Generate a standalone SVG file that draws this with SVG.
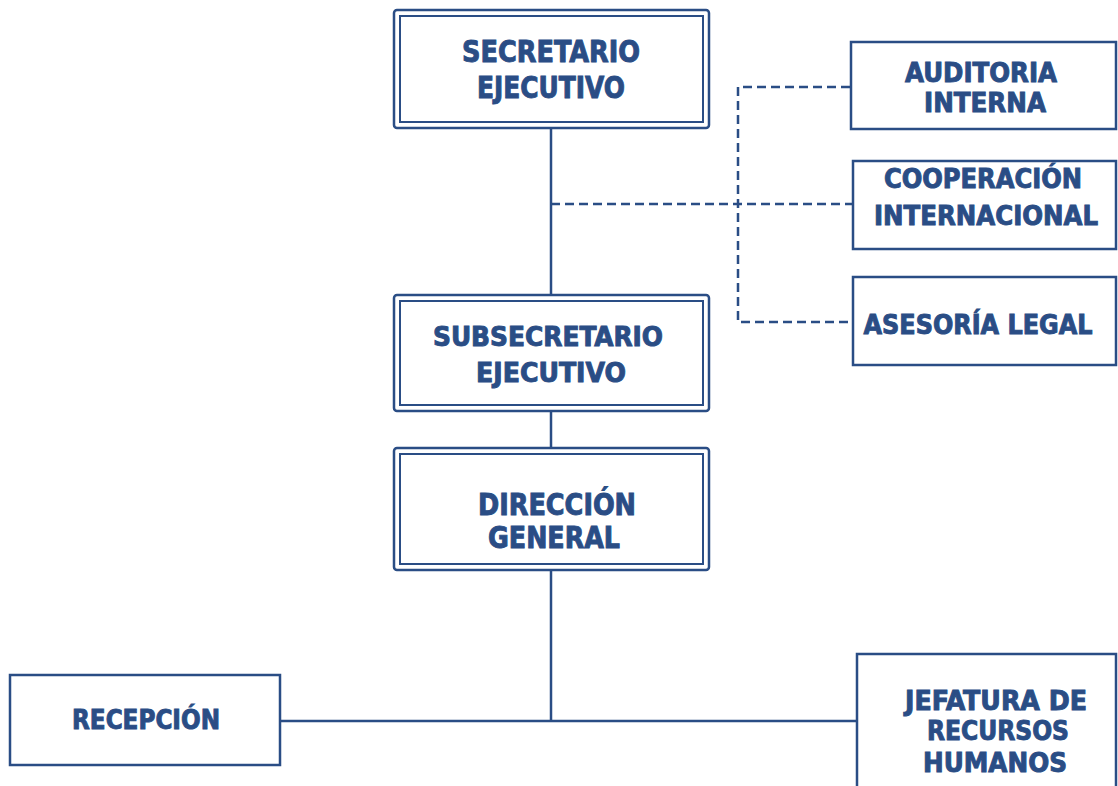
<svg xmlns="http://www.w3.org/2000/svg" width="1118" height="786" viewBox="0 0 1118 786">
<style>
.box{fill:#fff;stroke:#2a4d85;stroke-width:2.5}
.in{fill:none;stroke:#2a4d85;stroke-width:2}
.t{font-family:"DejaVu Sans Condensed","DejaVu Sans","Liberation Sans",sans-serif;font-stretch:condensed;font-weight:bold;fill:#2a4d85;stroke:#2a4d85;stroke-width:0.9;text-anchor:middle}
.s{font-size:27px}
.b{font-size:30px}
.ln{fill:none;stroke:#2a4d85;stroke-width:2.5}
.dl{fill:none;stroke:#2a4d85;stroke-width:2.5;stroke-dasharray:9 5}
</style>
<rect width="1118" height="786" fill="#fff"/>
<g id="connectors">
<line class="ln" x1="551" y1="129" x2="551" y2="295"/>
<line class="ln" x1="551" y1="411" x2="551" y2="448"/>
<line class="ln" x1="551" y1="570" x2="551" y2="721"/>
<line class="ln" x1="281" y1="721" x2="858" y2="721"/>
<line class="dl" x1="551" y1="204" x2="852" y2="204"/>
<polyline class="dl" points="850,87 738,87 738,322 852,322"/>
</g>
<g id="secretario">
<rect class="box" x="394" y="10" width="315" height="118" rx="3"/>
<rect class="in" x="400" y="16" width="303" height="106"/>
<text class="t b" x="551" y="62" textLength="178" lengthAdjust="spacingAndGlyphs">SECRETARIO</text>
<text class="t b" x="551" y="98" textLength="148" lengthAdjust="spacingAndGlyphs">EJECUTIVO</text>
</g>
<g id="subsecretario">
<rect class="box" x="394" y="295" width="315" height="116" rx="3"/>
<rect class="in" x="400" y="301" width="303" height="104"/>
<text class="t s" x="548" y="346" textLength="230" lengthAdjust="spacingAndGlyphs">SUBSECRETARIO</text>
<text class="t s" x="551" y="382" textLength="150" lengthAdjust="spacingAndGlyphs">EJECUTIVO</text>
</g>
<g id="direccion">
<rect class="box" x="394" y="448" width="315" height="122" rx="3"/>
<rect class="in" x="400" y="454" width="303" height="110"/>
<text class="t b" x="557" y="515" textLength="158" lengthAdjust="spacingAndGlyphs">DIRECCIÓN</text>
<text class="t b" x="554" y="548" textLength="132" lengthAdjust="spacingAndGlyphs">GENERAL</text>
</g>
<g id="auditoria">
<rect class="box" x="851" y="42" width="265" height="87"/>
<text class="t s" x="981" y="82" textLength="152" lengthAdjust="spacingAndGlyphs">AUDITORIA</text>
<text class="t s" x="985" y="112" textLength="122" lengthAdjust="spacingAndGlyphs">INTERNA</text>
</g>
<g id="cooperacion">
<rect class="box" x="853" y="161" width="263" height="88"/>
<text class="t s" x="983" y="188" textLength="198" lengthAdjust="spacingAndGlyphs">COOPERACIÓN</text>
<text class="t s" x="986" y="225" textLength="224" lengthAdjust="spacingAndGlyphs">INTERNACIONAL</text>
</g>
<g id="asesoria">
<rect class="box" x="853" y="277" width="263" height="88"/>
<text class="t s" x="978" y="334" textLength="229" lengthAdjust="spacingAndGlyphs">ASESORÍA LEGAL</text>
</g>
<g id="recepcion">
<rect class="box" x="10" y="675" width="270" height="90"/>
<text class="t s" x="146" y="729" textLength="148" lengthAdjust="spacingAndGlyphs">RECEPCIÓN</text>
</g>
<g id="jefatura">
<rect class="box" x="857" y="654" width="259" height="150"/>
<text class="t s" x="996" y="710" textLength="182" lengthAdjust="spacingAndGlyphs">JEFATURA DE</text>
<text class="t s" x="998" y="740" textLength="142" lengthAdjust="spacingAndGlyphs">RECURSOS</text>
<text class="t s" x="995" y="772" textLength="144" lengthAdjust="spacingAndGlyphs">HUMANOS</text>
</g>
</svg>
